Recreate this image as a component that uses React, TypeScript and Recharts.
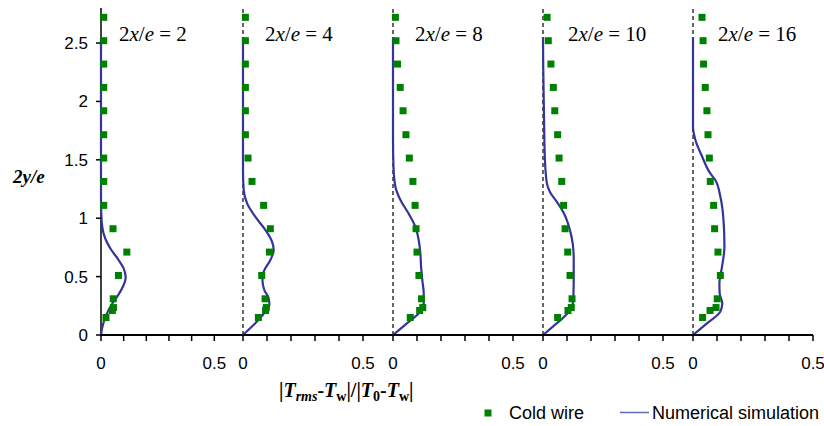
import React from 'react';
import { ComposedChart, Line, Scatter, XAxis, YAxis, ReferenceLine } from 'recharts';

// ---- data ----
const stations = ['2', '4', '8', '10', '16'];
const wireY = [2.72, 2.52, 2.32, 2.12, 1.92, 1.715, 1.515, 1.315, 1.11, 0.91, 0.71, 0.51, 0.31, 0.235, 0.21, 0.15];
const wireX1 = [0.012, 0.012, 0.012, 0.012, 0.012, 0.012, 0.012, 0.012, 0.012, 0.053, 0.114, 0.077, 0.054, 0.055, 0.05, 0.022];
const wireX2 = [0.01, 0.01, 0.01, 0.01, 0.01, 0.01, 0.021, 0.0375, 0.086, 0.114, 0.11, 0.078, 0.092, 0.097, 0.094, 0.064];
const wireX3 = [0.01, 0.0125, 0.019, 0.03, 0.042, 0.054, 0.068, 0.083, 0.092, 0.096, 0.1, 0.108, 0.119, 0.124, 0.111, 0.072];
const wireX4 = [0.017, 0.022, 0.033, 0.043, 0.049, 0.061, 0.067, 0.078, 0.086, 0.092, 0.103, 0.1125, 0.121, 0.118, 0.104, 0.061];
const wireX5 = [0.0375, 0.042, 0.044, 0.051, 0.058, 0.0625, 0.068, 0.072, 0.086, 0.09, 0.104, 0.114, 0.101, 0.096, 0.071, 0.04];

const simY1 = [0, 0.06, 0.13, 0.2, 0.27, 0.34, 0.42, 0.49, 0.57, 0.65, 0.73, 0.82, 0.92, 1.05, 1.2, 2.55];
const simX1 = [0, 0.005, 0.015, 0.03, 0.05, 0.075, 0.098, 0.109, 0.1, 0.075, 0.045, 0.02, 0.006, 0.001, 0, 0];
const simY2 = [0, 0.1, 0.2, 0.257, 0.314, 0.385, 0.471, 0.542, 0.642, 0.728, 0.8, 0.9, 1.013, 1.127, 1.24, 1.4, 2.55];
const simX2 = [0, 0.051, 0.093, 0.11, 0.107, 0.089, 0.081, 0.086, 0.114, 0.128, 0.121, 0.093, 0.051, 0.017, 0.003, 0, 0];
const simY3 = [0, 0.1, 0.2, 0.271, 0.357, 0.471, 0.585, 0.7, 0.813, 0.928, 1.04, 1.156, 1.27, 1.44, 1.7, 2.55];
const simX3 = [0, 0.058, 0.114, 0.128, 0.128, 0.122, 0.117, 0.114, 0.107, 0.093, 0.065, 0.031, 0.01, 0.002, 0, 0];
const simY4 = [0, 0.07, 0.15, 0.23, 0.28, 0.36, 0.5, 0.65, 0.78, 0.9, 1.03, 1.14, 1.22, 1.3, 1.5, 1.9, 2.3, 2.55];
const simX4 = [0, 0.04, 0.085, 0.118, 0.125, 0.127, 0.128, 0.128, 0.124, 0.112, 0.09, 0.058, 0.03, 0.016, 0.008, 0.004, 0.001, 0];
const simY5 = [0, 0.1, 0.2, 0.271, 0.357, 0.442, 0.585, 0.756, 0.956, 1.184, 1.327, 1.384, 1.53, 1.67, 1.78, 2.55];
const simX5 = [0, 0.058, 0.114, 0.122, 0.111, 0.11, 0.121, 0.131, 0.128, 0.114, 0.093, 0.072, 0.0375, 0.01, 0, 0];

const yTicks = [0, 0.5, 1, 1.5, 2, 2.5];
const xTicks = [0, 0.1, 0.2, 0.3, 0.4, 0.5];

const wireXs = [wireX1, wireX2, wireX3, wireX4, wireX5];
const simYs = [simY1, simY2, simY3, simY4, simY5];
const simXs = [simX1, simX2, simX3, simX4, simX5];

const zip = (xs: number[], ys: number[]) => xs.map((x, i) => ({ x, y: ys[i] }));

// ---- styling / layout ----
const GREEN = '#008000';
const BLUE = '#34349a';
const SANS = '"Liberation Sans", Arial, sans-serif';
const SERIF = '"Liberation Serif", "Times New Roman", serif';

const CH_H = 380;
const M_TOP = 8;
const XAX_H = 45;

// panel geometry: chart left, left margin, plot width, right margin, x domain max
const panels = [
  { left: 0, ml: 0, yw: 101, pw: 142, mr: 0, dmax: 0.6267, labelX: 119 },
  { left: 223, ml: 20, yw: 0, pw: 150, mr: 0, dmax: 0.625, labelX: 265 },
  { left: 373, ml: 20, yw: 0, pw: 150, mr: 0, dmax: 0.625, labelX: 415 },
  { left: 523, ml: 20, yw: 0, pw: 150, mr: 0, dmax: 0.625, labelX: 568 },
  { left: 673, ml: 20, yw: 0, pw: 120, mr: 20, dmax: 0.5, labelX: 718 },
];

const Square = (props: any) => {
  const { cx, cy } = props;
  if (cx == null || cy == null) return null;
  return <rect x={cx - 3.5} y={cy - 3.5} width={7} height={7} fill={GREEN} />;
};

const fmtX = (v: number) => (v === 0 ? '0' : v === 0.5 ? '0.5' : '');

function Panel({ idx }: { idx: number }) {
  const p = panels[idx];
  const width = p.ml + p.yw + p.pw + p.mr;
  const wire = zip(wireXs[idx], wireY);
  const sim = zip(simXs[idx], simYs[idx]);
  return (
    <div style={{ position: 'absolute', left: p.left, top: 0 }}>
      <ComposedChart
        width={width}
        height={CH_H}
        layout="vertical"
        margin={{ top: M_TOP, right: p.mr, bottom: 0, left: p.ml }}
      >
        <XAxis
          type="number"
          dataKey="x"
          domain={[0, p.dmax]}
          ticks={xTicks}
          interval={0}
          tickFormatter={fmtX}
          height={XAX_H}
          tickSize={6}
          tickMargin={16}
          axisLine={{ stroke: '#000', strokeWidth: 2 }}
          tickLine={{ stroke: '#000', strokeWidth: 1.5 }}
          tick={{ fontFamily: SANS, fontSize: 17, fill: '#000' }}
        />
        {idx === 0 ? (
          <YAxis
            type="number"
            dataKey="y"
            domain={[0, 2.8]}
            reversed
            ticks={yTicks}
            interval={0}
            width={p.yw}
            tickSize={5}
            tickMargin={8}
            axisLine={false}
            tickLine={{ stroke: '#000', strokeWidth: 1.5 }}
            tick={{ fontFamily: SANS, fontSize: 17, fill: '#000' }}
          />
        ) : (
          <YAxis type="number" dataKey="y" domain={[0, 2.8]} reversed hide />
        )}
        {idx === 0 ? (
          <ReferenceLine x={0} stroke="#000" strokeWidth={1.5} ifOverflow="visible" />
        ) : (
          <ReferenceLine x={0} stroke="#000" strokeWidth={1.2} strokeDasharray="4 3" ifOverflow="visible" />
        )}
        <Line
          data={sim}
          dataKey="x"
          type="monotone"
          stroke={BLUE}
          strokeWidth={2.2}
          dot={false}
          activeDot={false}
          isAnimationActive={false}
        />
        <Scatter data={wire} dataKey="x" shape={<Square />} isAnimationActive={false} />
      </ComposedChart>
    </div>
  );
}

export default function App() {
  return (
    <div style={{ position: 'absolute', left: 0, top: 0, width: 824, height: 426, background: '#fff', overflow: 'hidden' }}>
      {panels.map((_, i) => (
        <Panel key={i} idx={i} />
      ))}
      <svg
        width={824}
        height={426}
        style={{ position: 'absolute', left: 0, top: 0, pointerEvents: 'none' }}
      >
        {stations.map((s, i) => (
          <text key={s} x={panels[i].labelX} y={41} fontFamily={SERIF} fontSize={21} fill="#000">
            <tspan>2</tspan>
            <tspan fontStyle="italic">x</tspan>
            <tspan>/</tspan>
            <tspan fontStyle="italic">e</tspan>
            <tspan>{` = ${s}`}</tspan>
          </text>
        ))}
        <text x={13} y={183} fontFamily={SERIF} fontSize={19} fontWeight="bold" fontStyle="italic" fill="#000">
          2y/e
        </text>
        <text x={279} y={397} fontFamily={SERIF} fontSize={20} fontWeight="bold" fill="#000">
          <tspan>|</tspan>
          <tspan fontStyle="italic">T</tspan>
          <tspan fontStyle="italic" fontSize={14} dy={4}>rms</tspan>
          <tspan dy={-4}>-</tspan>
          <tspan fontStyle="italic">T</tspan>
          <tspan fontSize={14} dy={4}>w</tspan>
          <tspan dy={-4}>|/|</tspan>
          <tspan fontStyle="italic">T</tspan>
          <tspan fontSize={14} dy={4}>0</tspan>
          <tspan dy={-4}>-</tspan>
          <tspan fontStyle="italic">T</tspan>
          <tspan fontSize={14} dy={4}>w</tspan>
          <tspan dy={-4}>|</tspan>
        </text>
        <rect x={484.5} y={409.5} width={7} height={7} fill={GREEN} />
        <text x={509} y={419} fontFamily={SANS} fontSize={18} fill="#000">Cold wire</text>
        <line x1={620} x2={649} y1={412.5} y2={412.5} stroke={BLUE} strokeWidth={1.5} opacity={0.75} />
        <text x={652} y={419} fontFamily={SANS} fontSize={18} fill="#000">Numerical simulation</text>
      </svg>
    </div>
  );
}
